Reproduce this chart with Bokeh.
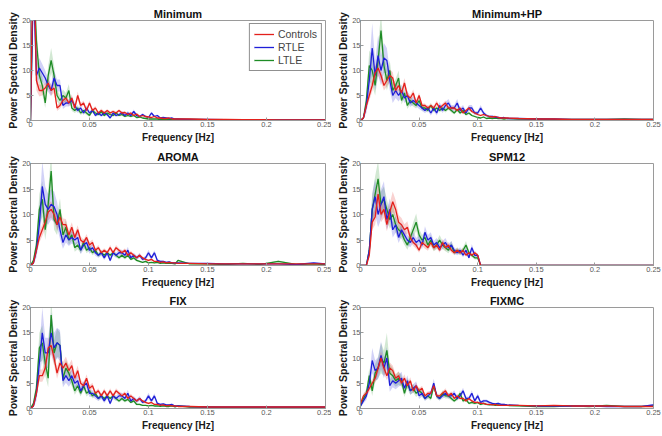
from bokeh.plotting import figure
from bokeh.layouts import column, row
from bokeh.models import FixedTicker, Legend, LegendItem, Range1d
from bokeh.embed import file_html
from bokeh.resources import INLINE

FREQ = [0, 0.0025, 0.005, 0.0075, 0.01, 0.0125, 0.015, 0.0175, 0.02, 0.0225,
        0.025, 0.0275, 0.03, 0.0325, 0.035, 0.0375, 0.04, 0.0425, 0.045, 0.0475,
        0.05, 0.0525, 0.055, 0.0575, 0.06, 0.0625, 0.065, 0.0675, 0.07, 0.0725,
        0.075, 0.0775, 0.08, 0.0825, 0.085, 0.0875, 0.09, 0.0925, 0.095, 0.0975,
        0.1, 0.1025, 0.105, 0.1075, 0.11, 0.1125, 0.115, 0.1175, 0.12, 0.1225,
        0.125, 0.135, 0.15, 0.165, 0.18, 0.195, 0.21, 0.225, 0.24, 0.25]

XTICKS = [0, 0.05, 0.1, 0.15, 0.2, 0.25]
XTICK_LABELS = ["0", "0.05", "0.1", "0.15", "0.2", "0.25"]
YTICKS = [0, 5, 10, 15, 20]
GROUPS = ["Controls", "RTLE", "LTLE"]
TITLES = ["Minimum", "Minimum+HP", "AROMA", "SPM12", "FIX", "FIXMC"]

# ---------------- Minimum ----------------
min_controls = [0, 38, 8, 6, 6, 6.5, 7.5, 6, 6.5, 2.5,
                3, 4, 4.5, 3.5, 4.5, 2.5, 5, 3, 3.5, 2,
                3.5, 2, 2.5, 1.5, 2, 1.5, 2, 1.5, 1.8, 1.5,
                2, 1.5, 1.6, 1.2, 1.5, 1, 1.3, 0.8, 1, 0.8,
                0.7, 0.6, 0.8, 0.5, 0.5, 0.4, 0.4, 0.5, 0.3, 0.3,
                0.3, 0.3, 0.2, 0.2, 0.15, 0.15, 0.1, 0.1, 0.1, 0.1]
min_controls_err = [0, 6, 2, 1.2, 1, 1, 1.2, 1, 1, 0.6,
                    0.6, 0.7, 0.7, 0.6, 0.7, 0.5, 0.8, 0.5, 0.5, 0.4,
                    0.5, 0.4, 0.4, 0.3, 0.4, 0.3, 0.3, 0.3, 0.3, 0.3,
                    0.3, 0.3, 0.3, 0.2, 0.3, 0.2, 0.2, 0.2, 0.2, 0.2,
                    0.1, 0.1, 0.1, 0.1, 0.1, 0.1, 0.1, 0.1, 0.1, 0.1,
                    0.1, 0.1, 0.05, 0.05, 0.05, 0.05, 0.05, 0.05, 0.05, 0.05]
min_rtle = [0, 28, 9, 10.5, 9.5, 8.5, 7, 6, 8.5, 7,
            7, 3, 3.5, 3.5, 4, 3, 2, 2.5, 1.5, 2.5,
            1.5, 2, 1, 1.5, 1, 1.5, 1.2, 0.5, 1.5, 1,
            1.2, 1.5, 1, 1.5, 1, 1.8, 1, 0.8, 1.2, 0.8,
            0.6, 1.5, 0.8, 1, 0.5, 0.6, 0.5, 0.4, 0.5, 0.3,
            0.3, 0.2, 0.2, 0.15, 0.15, 0.1, 0.1, 0.1, 0.1, 0.1]
min_rtle_err = [0, 5, 2, 2, 1.8, 1.5, 1.3, 1.2, 1.5, 1.2,
                1.2, 0.7, 0.7, 0.7, 0.8, 0.6, 0.5, 0.5, 0.4, 0.5,
                0.4, 0.4, 0.3, 0.4, 0.3, 0.4, 0.3, 0.2, 0.4, 0.3,
                0.3, 0.4, 0.3, 0.4, 0.3, 0.4, 0.3, 0.2, 0.3, 0.2,
                0.2, 0.3, 0.2, 0.2, 0.1, 0.1, 0.1, 0.1, 0.1, 0.1,
                0.1, 0.05, 0.05, 0.05, 0.05, 0.05, 0.05, 0.05, 0.05, 0.05]
min_ltle = [0, 30, 16, 9, 7, 3.5, 9, 12, 9, 5,
            4, 5, 4.5, 6, 2.5, 2, 2.5, 1.5, 2, 1.5,
            1, 2, 1.5, 1.2, 1.8, 1, 1.5, 1.2, 1, 1.5,
            1, 1.2, 0.8, 1, 0.8, 1, 0.6, 0.7, 0.5, 0.4,
            0.3, 0.3, 0.3, 0.3, 0.2, 0.2, 0.2, 0.2, 0.2, 0.2,
            0.2, 0.2, 0.15, 0.15, 0.1, 0.1, 0.1, 0.1, 0.1, 0.1]
min_ltle_err = [0, 5, 3, 2, 1.8, 1, 2, 2.5, 2, 1.2,
                1, 1.2, 1, 1.3, 0.6, 0.5, 0.6, 0.4, 0.5, 0.4,
                0.3, 0.4, 0.4, 0.3, 0.4, 0.3, 0.3, 0.3, 0.3, 0.3,
                0.2, 0.3, 0.2, 0.2, 0.2, 0.2, 0.2, 0.2, 0.1, 0.1,
                0.1, 0.1, 0.1, 0.1, 0.1, 0.1, 0.1, 0.1, 0.1, 0.1,
                0.1, 0.05, 0.05, 0.05, 0.05, 0.05, 0.05, 0.05, 0.05, 0.05]

# ---------------- Minimum+HP ----------------
hp_controls = [0, 0.5, 3, 5, 7, 9.5, 10.5, 9, 7, 8,
               9, 8.5, 6, 7, 5.5, 7.5, 5, 4.5, 5.5, 3.5,
               5, 3, 3, 2.5, 3, 2.5, 3.5, 2.5, 3, 3.5,
               2.5, 2.5, 2.5, 2, 2.5, 1.5, 2, 2.5, 1.8, 1.5,
               1.2, 1, 1.2, 1, 0.8, 0.7, 0.8, 0.6, 0.5, 0.5,
               0.5, 0.4, 0.3, 0.3, 0.2, 0.2, 0.2, 0.2, 0.2, 0.2]
hp_controls_err = [0, 0.2, 0.8, 1, 1.2, 1.5, 1.5, 1.3, 1, 1.2,
                   1.2, 1.2, 0.9, 1, 0.8, 1, 0.7, 0.6, 0.7, 0.5,
                   0.6, 0.4, 0.4, 0.4, 0.4, 0.4, 0.5, 0.4, 0.4, 0.5,
                   0.4, 0.4, 0.4, 0.3, 0.4, 0.3, 0.3, 0.4, 0.3, 0.3,
                   0.2, 0.2, 0.2, 0.2, 0.1, 0.1, 0.1, 0.1, 0.1, 0.1,
                   0.1, 0.1, 0.05, 0.05, 0.05, 0.05, 0.05, 0.05, 0.05, 0.05]
hp_rtle = [0, 0.5, 3, 8, 14.5, 9, 13, 10, 12.5, 12,
           8, 5, 6, 5, 6, 4.5, 5, 3.5, 4, 3.5,
           3, 2.5, 2, 2.5, 1.5, 2.5, 1.5, 3, 2, 3,
           3.5, 2.5, 2.5, 3.5, 2, 2.5, 1.5, 2.5, 2.5, 1.5,
           1.5, 2.5, 1.5, 1, 0.8, 0.8, 0.7, 0.6, 0.5, 0.6,
           0.4, 0.4, 0.3, 0.3, 0.2, 0.2, 0.2, 0.2, 0.2, 0.2]
hp_rtle_err = [0, 0.3, 1.5, 3, 5, 3, 4, 3, 3, 2.5,
               2, 1.5, 1.5, 1.2, 1.2, 1, 1, 0.8, 0.8, 0.7,
               0.7, 0.6, 0.5, 0.6, 0.5, 0.6, 0.5, 0.7, 0.5, 0.7,
               0.8, 0.6, 0.6, 0.8, 0.5, 0.6, 0.4, 0.6, 0.6, 0.4,
               0.4, 0.6, 0.4, 0.3, 0.2, 0.2, 0.2, 0.2, 0.1, 0.1,
               0.1, 0.1, 0.05, 0.05, 0.05, 0.05, 0.05, 0.05, 0.05, 0.05]
hp_ltle = [0, 0.5, 4, 11, 10, 7, 12, 18, 11, 8,
           10, 6, 7, 8.5, 4, 5.5, 3, 4, 3.5, 3,
           4, 2.5, 2.5, 2, 3, 2, 2.5, 2, 2.5, 2,
           2.5, 2, 1.5, 2.2, 1.5, 2, 1.2, 1.5, 1, 0.8,
           0.6, 0.5, 0.7, 0.4, 0.5, 0.4, 0.5, 0.4, 0.4, 0.3,
           0.4, 0.3, 0.3, 0.2, 0.2, 0.2, 0.2, 0.3, 0.2, 0.2]
hp_ltle_err = [0, 0.3, 1.5, 3, 3, 2, 3, 3.5, 2.5, 2,
               2, 1.3, 1.3, 1.5, 0.8, 1, 0.7, 0.8, 0.7, 0.6,
               0.7, 0.5, 0.5, 0.4, 0.5, 0.4, 0.4, 0.4, 0.4, 0.4,
               0.4, 0.4, 0.3, 0.4, 0.3, 0.4, 0.3, 0.3, 0.2, 0.2,
               0.2, 0.1, 0.2, 0.1, 0.1, 0.1, 0.1, 0.1, 0.1, 0.1,
               0.1, 0.05, 0.05, 0.05, 0.05, 0.05, 0.05, 0.05, 0.05, 0.05]

# ---------------- AROMA ----------------
aroma_controls = [0, 0.5, 3, 5.5, 7, 8.5, 10.5, 11, 10, 8,
                  9.5, 8, 8, 6, 7.5, 5.5, 7, 5, 4.5, 5.5,
                  4, 4.5, 3, 3.5, 2.5, 3, 2.5, 3.5, 2.5, 3.5,
                  3, 2.5, 3, 2, 2.5, 2, 1.5, 2, 1.5, 1.2,
                  1, 1.2, 0.8, 0.8, 0.6, 0.7, 0.5, 0.6, 0.5, 0.5,
                  0.4, 0.4, 0.3, 0.3, 0.3, 0.3, 0.3, 0.3, 0.3, 0.3]
aroma_controls_err = [0, 0.2, 0.8, 1, 1.2, 1.4, 1.6, 1.6, 1.4, 1.2,
                      1.3, 1.2, 1.1, 0.9, 1, 0.8, 0.9, 0.7, 0.6, 0.7,
                      0.6, 0.6, 0.4, 0.5, 0.4, 0.4, 0.4, 0.5, 0.4, 0.5,
                      0.4, 0.4, 0.4, 0.3, 0.4, 0.3, 0.3, 0.3, 0.2, 0.2,
                      0.2, 0.2, 0.1, 0.1, 0.1, 0.1, 0.1, 0.1, 0.1, 0.1,
                      0.1, 0.1, 0.05, 0.05, 0.05, 0.05, 0.05, 0.05, 0.05, 0.05]
aroma_rtle = [0, 0.5, 3, 8, 15.5, 12, 11, 12, 11.5, 10,
              7, 4.5, 6, 5, 5.5, 5, 5.5, 3, 4, 4.5,
              3, 3.5, 2.5, 2, 2.5, 1.5, 2.5, 1, 2.5, 2,
              2.5, 2.5, 2, 3, 1.5, 2, 1.5, 2, 1.2, 1.5,
              2.5, 1.5, 2.5, 1, 0.8, 0.8, 0.6, 0.7, 0.5, 0.5,
              0.5, 0.4, 0.4, 0.3, 0.3, 0.3, 0.3, 0.2, 0.5, 0.3]
aroma_rtle_err = [0, 0.3, 1.5, 3, 5, 3.5, 3, 3, 3, 2.5,
                  1.8, 1.2, 1.5, 1.2, 1.2, 1.1, 1.1, 0.8, 0.9, 0.9,
                  0.7, 0.7, 0.6, 0.5, 0.6, 0.4, 0.6, 0.3, 0.6, 0.5,
                  0.6, 0.6, 0.5, 0.7, 0.4, 0.5, 0.4, 0.5, 0.3, 0.4,
                  0.6, 0.4, 0.5, 0.3, 0.2, 0.2, 0.2, 0.2, 0.1, 0.1,
                  0.1, 0.1, 0.1, 0.05, 0.05, 0.05, 0.05, 0.05, 0.1, 0.05]
aroma_ltle = [0, 1, 4, 11, 13, 7, 12, 18.5, 9, 8,
              11, 6, 7.5, 5, 6, 3.5, 4, 3, 4.5, 3,
              3.5, 2.5, 3, 2, 2.5, 2, 2.5, 2, 2.5, 2,
              1.5, 2, 1.5, 2, 1.2, 1.5, 1, 0.8, 0.6, 0.8,
              0.5, 0.6, 0.5, 0.6, 0.4, 0.5, 0.4, 0.4, 0.4, 0.3,
              1.0, 0.3, 0.3, 0.2, 0.4, 0.2, 0.8, 0.2, 0.3, 0.2]
aroma_ltle_err = [0, 0.4, 1.5, 3, 3.5, 2, 3, 3.5, 2, 2,
                  2.2, 1.3, 1.4, 1, 1.1, 0.8, 0.8, 0.6, 0.8, 0.6,
                  0.6, 0.5, 0.5, 0.4, 0.5, 0.4, 0.4, 0.4, 0.4, 0.4,
                  0.3, 0.4, 0.3, 0.4, 0.2, 0.3, 0.2, 0.2, 0.1, 0.2,
                  0.1, 0.1, 0.1, 0.1, 0.1, 0.1, 0.1, 0.1, 0.1, 0.1,
                  0.2, 0.05, 0.05, 0.05, 0.1, 0.05, 0.2, 0.05, 0.05, 0.05]

# ---------------- SPM12 ----------------
spm_controls = [0, 0, 0, 2, 8.5, 9.5, 14, 10, 11, 8,
                10.5, 12.5, 11, 8.5, 8, 7, 7.5, 5.5, 4.5, 4,
                3, 4.5, 4, 3.5, 4.5, 3.5, 4, 3, 4.5, 3.5,
                4, 3, 2.5, 3, 2.5, 3, 2, 2.5, 2, 2.5,
                2, 0, 0, 0, 0, 0, 0, 0, 0, 0,
                0, 0, 0, 0, 0, 0, 0, 0, 0, 0]
spm_controls_err = [0, 0, 0, 0.5, 1.5, 1.5, 2.5, 1.5, 1.7, 1.3,
                    1.7, 2, 1.8, 1.4, 1.3, 1.1, 1.2, 0.9, 0.7, 0.7,
                    0.5, 0.7, 0.7, 0.6, 0.7, 0.6, 0.6, 0.5, 0.7, 0.6,
                    0.6, 0.5, 0.4, 0.5, 0.4, 0.5, 0.3, 0.4, 0.3, 0.4,
                    0.3, 0, 0, 0, 0, 0, 0, 0, 0, 0,
                    0, 0, 0, 0, 0, 0, 0, 0, 0, 0]
spm_rtle = [0, 0, 0, 3, 11, 13.5, 10, 12, 13.5, 9,
            11, 7, 8, 5.5, 7, 6, 5, 4.5, 5.5, 4.5,
            5, 4, 6.5, 5, 5.5, 4, 4.5, 3.5, 4, 4.5,
            3.5, 4, 3, 2.5, 3, 2, 3, 1.5, 3.5, 2,
            2, 0, 0, 0, 0, 0, 0, 0, 0, 0,
            0, 0, 0, 0, 0, 0, 0, 0, 0, 0]
spm_rtle_err = [0, 0, 0, 1, 3, 3.5, 2.5, 3, 3, 2,
                2.2, 1.5, 1.6, 1.1, 1.3, 1.2, 1, 0.9, 1.1, 0.9,
                1, 0.8, 1.2, 1, 1, 0.8, 0.9, 0.7, 0.8, 0.9,
                0.7, 0.8, 0.6, 0.5, 0.6, 0.4, 0.6, 0.3, 0.7, 0.4,
                0.4, 0, 0, 0, 0, 0, 0, 0, 0, 0,
                0, 0, 0, 0, 0, 0, 0, 0, 0, 0]
spm_ltle = [0, 0, 0, 3, 11, 14, 17, 12, 13, 11,
            9, 10, 8, 7, 6.5, 5, 4, 5.5, 7, 8.5,
            6, 5, 5.5, 4, 5, 3.5, 4, 5, 4, 3.5,
            3, 4, 2.5, 3, 2.5, 3, 4, 2.5, 2, 1.5,
            1.5, 0, 0, 0, 0, 0, 0, 0, 0, 0,
            0, 0, 0, 0, 0, 0, 0, 0, 0, 0]
spm_ltle_err = [0, 0, 0, 1, 3, 3.5, 3.5, 2.5, 2.5, 2,
                1.8, 2, 1.6, 1.4, 1.3, 1, 0.9, 1.1, 1.5, 1.7,
                1.2, 1, 1.1, 0.8, 1, 0.7, 0.8, 1, 0.8, 0.7,
                0.6, 0.8, 0.5, 0.6, 0.5, 0.6, 0.8, 0.5, 0.4, 0.3,
                0.3, 0, 0, 0, 0, 0, 0, 0, 0, 0,
                0, 0, 0, 0, 0, 0, 0, 0, 0, 0]

# ---------------- FIX ----------------
fix_controls = [0, 0.5, 3, 6.5, 6.5, 8, 12, 12.5, 10, 7,
                9, 8, 9, 7.5, 8.5, 6, 7.5, 5, 4.5, 6,
                4, 4.5, 3, 3.5, 2.5, 3.5, 2.5, 3.5, 2.5, 3.5,
                3, 2.5, 3, 2, 2.5, 2, 1.5, 2, 1.5, 1.2,
                1, 1.2, 0.8, 0.8, 0.6, 0.7, 0.5, 0.6, 0.5, 0.5,
                0.4, 0.4, 0.3, 0.3, 0.3, 0.3, 0.3, 0.3, 0.3, 0.3]
fix_controls_err = [0, 0.2, 0.8, 1.2, 1.2, 1.4, 1.8, 1.8, 1.5, 1.1,
                    1.3, 1.2, 1.3, 1.1, 1.2, 0.9, 1, 0.7, 0.6, 0.8,
                    0.6, 0.6, 0.4, 0.5, 0.4, 0.5, 0.4, 0.5, 0.4, 0.5,
                    0.4, 0.4, 0.4, 0.3, 0.4, 0.3, 0.3, 0.3, 0.2, 0.2,
                    0.2, 0.2, 0.1, 0.1, 0.1, 0.1, 0.1, 0.1, 0.1, 0.1,
                    0.1, 0.1, 0.05, 0.05, 0.05, 0.05, 0.05, 0.05, 0.05, 0.05]
fix_rtle = [0, 0.5, 3, 9, 15, 11, 11, 15, 12, 13,
            12.5, 5.5, 6.5, 5.5, 6.5, 5, 5.5, 3.5, 4.5, 5,
            3, 3, 2.5, 2, 2.5, 1.5, 2.5, 1, 2.5, 2,
            2.5, 2.5, 2, 3, 1.5, 2, 1.5, 2, 1.2, 1.5,
            2.5, 1.5, 2.5, 1, 0.8, 0.9, 0.7, 0.7, 0.8, 0.5,
            0.5, 0.4, 0.3, 0.3, 0.3, 0.3, 0.3, 0.3, 0.3, 0.3]
fix_rtle_err = [0, 0.3, 1.5, 3, 5, 3, 3, 4, 3, 3,
                3, 1.3, 1.4, 1.2, 1.3, 1.1, 1.1, 0.8, 0.9, 1,
                0.7, 0.6, 0.6, 0.5, 0.6, 0.4, 0.6, 0.3, 0.6, 0.5,
                0.6, 0.6, 0.5, 0.7, 0.4, 0.5, 0.4, 0.5, 0.3, 0.4,
                0.6, 0.4, 0.5, 0.3, 0.2, 0.2, 0.2, 0.2, 0.2, 0.1,
                0.1, 0.1, 0.05, 0.05, 0.05, 0.05, 0.05, 0.05, 0.05, 0.05]
fix_ltle = [0, 1, 4, 12, 13, 9, 6, 18.5, 11, 13,
            12.5, 6, 8, 7, 5.5, 3.5, 4.5, 3, 4.5, 3,
            3.5, 2.5, 3, 2, 2.5, 2, 2.5, 2, 2.5, 2,
            1.5, 2, 1.5, 1.8, 1.2, 1.5, 0.8, 0.8, 0.6, 0.6,
            0.5, 0.6, 0.5, 0.5, 0.4, 0.5, 0.4, 0.4, 0.5, 0.3,
            0.5, 0.3, 0.3, 0.2, 0.2, 0.2, 0.2, 0.2, 0.2, 0.2]
fix_ltle_err = [0, 0.4, 1.5, 3, 3.5, 2.5, 1.8, 3.5, 2.5, 2.8,
                2.5, 1.3, 1.6, 1.4, 1.1, 0.8, 0.9, 0.6, 0.8, 0.6,
                0.6, 0.5, 0.5, 0.4, 0.5, 0.4, 0.4, 0.4, 0.4, 0.4,
                0.3, 0.4, 0.3, 0.3, 0.2, 0.3, 0.2, 0.2, 0.1, 0.1,
                0.1, 0.1, 0.1, 0.1, 0.1, 0.1, 0.1, 0.1, 0.1, 0.1,
                0.1, 0.05, 0.05, 0.05, 0.05, 0.05, 0.05, 0.05, 0.05, 0.05]

# ---------------- FIXMC ----------------
fixmc_controls = [1, 2.5, 3, 4, 5, 6, 8, 10, 8, 6.5,
                  8, 7.5, 6, 6.5, 5, 6, 4.5, 5.5, 3.5, 4.5,
                  3.5, 4, 2.5, 3, 3, 4.5, 2.5, 2.5, 3, 3.5,
                  2.5, 3, 2, 2.5, 2, 2, 1.5, 2, 1.5, 1.2,
                  1.2, 1, 1, 0.8, 0.8, 0.7, 0.8, 0.6, 0.6, 0.6,
                  0.6, 0.6, 0.5, 0.6, 0.5, 0.5, 0.5, 0.4, 0.4, 0.4]
fixmc_controls_err = [0.3, 0.5, 0.6, 0.7, 0.8, 0.9, 1.1, 1.3, 1.1, 0.9,
                      1.1, 1, 0.8, 0.9, 0.7, 0.8, 0.6, 0.7, 0.5, 0.6,
                      0.5, 0.5, 0.4, 0.4, 0.4, 0.6, 0.4, 0.4, 0.4, 0.5,
                      0.4, 0.4, 0.3, 0.4, 0.3, 0.3, 0.2, 0.3, 0.2, 0.2,
                      0.2, 0.2, 0.2, 0.1, 0.1, 0.1, 0.1, 0.1, 0.1, 0.1,
                      0.1, 0.1, 0.1, 0.1, 0.1, 0.1, 0.1, 0.1, 0.1, 0.1]
fixmc_rtle = [0.5, 1.5, 2.5, 5, 9.5, 7.5, 8, 10.5, 8, 10,
              4.5, 5.5, 5, 5.5, 6, 4, 5.5, 3.5, 4, 4.5,
              2.5, 3, 2, 2.5, 3, 5, 2.5, 2, 2.5, 3,
              2.5, 2.5, 3, 2, 2.5, 3.5, 2, 2, 3, 1.5,
              2.5, 1.2, 1.5, 1.5, 1.2, 1, 0.9, 1, 0.8, 0.8,
              0.7, 0.6, 0.5, 0.5, 0.5, 0.5, 0.4, 0.4, 0.4, 0.7]
fixmc_rtle_err = [0.3, 0.5, 0.8, 1.2, 2.5, 2, 2.2, 2.8, 2, 2.2,
                  1.2, 1.3, 1.2, 1.2, 1.3, 0.9, 1.1, 0.8, 0.8, 0.9,
                  0.6, 0.6, 0.5, 0.5, 0.6, 0.9, 0.5, 0.4, 0.5, 0.6,
                  0.5, 0.5, 0.6, 0.4, 0.5, 0.6, 0.4, 0.4, 0.6, 0.3,
                  0.5, 0.3, 0.3, 0.3, 0.3, 0.2, 0.2, 0.2, 0.2, 0.2,
                  0.1, 0.1, 0.1, 0.1, 0.1, 0.1, 0.1, 0.1, 0.1, 0.2]
fixmc_ltle = [0.5, 2, 3, 6.5, 3.5, 7, 8, 10, 9, 11.5,
              7, 6.5, 5.5, 6, 5.5, 3, 5, 3.5, 4, 3,
              3.5, 3, 2, 2.5, 2, 4.5, 2.5, 2, 3, 2.5,
              2.5, 2, 1.5, 2, 3, 1.5, 1.8, 1, 1.2, 1,
              1.2, 0.8, 1, 0.8, 0.7, 0.8, 0.6, 0.7, 0.6, 0.7,
              0.6, 0.5, 0.4, 0.4, 0.5, 0.4, 0.6, 0.4, 0.4, 0.5]
fixmc_ltle_err = [0.3, 0.6, 0.9, 1.5, 1, 1.8, 2, 3, 2.5, 3.5,
                  1.8, 1.5, 1.2, 1.3, 1.2, 0.7, 1.1, 0.8, 0.9, 0.7,
                  0.7, 0.6, 0.4, 0.5, 0.4, 0.8, 0.5, 0.4, 0.6, 0.5,
                  0.5, 0.4, 0.3, 0.4, 0.6, 0.3, 0.4, 0.2, 0.3, 0.2,
                  0.3, 0.2, 0.2, 0.2, 0.1, 0.2, 0.1, 0.1, 0.1, 0.1,
                  0.1, 0.1, 0.1, 0.1, 0.1, 0.1, 0.1, 0.1, 0.1, 0.1]

PANELS = [
    (min_controls, min_controls_err, min_rtle, min_rtle_err, min_ltle, min_ltle_err),
    (hp_controls, hp_controls_err, hp_rtle, hp_rtle_err, hp_ltle, hp_ltle_err),
    (aroma_controls, aroma_controls_err, aroma_rtle, aroma_rtle_err, aroma_ltle, aroma_ltle_err),
    (spm_controls, spm_controls_err, spm_rtle, spm_rtle_err, spm_ltle, spm_ltle_err),
    (fix_controls, fix_controls_err, fix_rtle, fix_rtle_err, fix_ltle, fix_ltle_err),
    (fixmc_controls, fixmc_controls_err, fixmc_rtle, fixmc_rtle_err, fixmc_ltle, fixmc_ltle_err),
]

COLORS = {"Controls": "#e3201b", "RTLE": "#1f1fd8", "LTLE": "#1e8c25"}
FONT = "Liberation Sans"
AXIS_GRAY = "#9a9a9a"

# per-row figure heights and borders (top, bottom); per-column borders (left, right)
ROW_H = [145, 145, 146]
ROW_B = [(20, 24), (18, 24), (17, 28)]
COL_B = [(30, 6), (29, 9)]


def style_axis(ax):
    ax.major_tick_in = 3
    ax.major_tick_out = 0
    ax.minor_tick_line_color = None
    ax.axis_line_color = AXIS_GRAY
    ax.major_tick_line_color = AXIS_GRAY
    ax.major_label_text_color = "#5a5a5a"
    ax.major_label_text_font = FONT
    ax.major_label_text_font_size = "7.5px"
    ax.major_label_standoff = 1
    ax.axis_label_text_font = FONT
    ax.axis_label_text_font_style = "bold"
    ax.axis_label_text_font_size = "10px"
    ax.axis_label_text_color = "#1a1a1a"
    ax.axis_label_standoff = 2


def make_panel(idx):
    rw, cl = idx // 2, idx % 2
    title = TITLES[idx]
    c, ce, r, re_, l, le = PANELS[idx]
    p = figure(width=331, height=ROW_H[rw], output_backend="svg", toolbar_location=None,
               x_range=Range1d(0, 0.25), y_range=Range1d(0, 20),
               min_border_left=COL_B[cl][0], min_border_right=COL_B[cl][1],
               min_border_top=ROW_B[rw][0], min_border_bottom=ROW_B[rw][1])
    p.title.text = title
    p.title.align = "center"
    p.title.text_font = FONT
    p.title.text_font_size = "11px"
    p.title.text_font_style = "bold"
    p.title.text_color = "#111111"
    p.title.standoff = 1
    p.xgrid.visible = False
    p.ygrid.visible = False
    p.outline_line_color = AXIS_GRAY
    p.background_fill_color = "white"
    p.border_fill_color = "white"

    p.xaxis.ticker = FixedTicker(ticks=XTICKS)
    p.xaxis.major_label_overrides = dict(zip(XTICKS, XTICK_LABELS))
    p.yaxis.ticker = FixedTicker(ticks=YTICKS)
    p.xaxis.axis_label = "Frequency [Hz]"
    p.yaxis.axis_label = "Power Spectral Density"
    style_axis(p.xaxis[0])
    style_axis(p.yaxis[0])
    p.yaxis.major_label_standoff = 0
    p.yaxis.axis_label_standoff = 0
    p.yaxis.axis_label_text_font_size = "10.5px"

    series = [("LTLE", l, le), ("RTLE", r, re_), ("Controls", c, ce)]
    for name, y, e in series:
        lo = [a - b for a, b in zip(y, e)]
        hi = [a + b for a, b in zip(y, e)]
        p.varea(x=FREQ, y1=lo, y2=hi, fill_color=COLORS[name], fill_alpha=0.2)
    rends = {}
    for name, y, e in series:
        rends[name] = p.line(FREQ, y, line_color=COLORS[name], line_width=1.3)

    if idx == 0:
        items = [LegendItem(label=g, renderers=[rends[g]]) for g in GROUPS]
        leg = Legend(items=items, location="top_right")
        leg.label_text_font = FONT
        leg.label_text_font_size = "10.5px"
        leg.glyph_width = 20
        leg.glyph_height = 12
        leg.label_standoff = 4
        leg.label_height = 12
        leg.spacing = 1
        leg.padding = 4
        leg.margin = 3
        leg.border_line_color = "#222222"
        leg.border_line_width = 0.8
        leg.background_fill_alpha = 1
        p.add_layout(leg)
    return p


figs = [make_panel(i) for i in range(6)]
layout = column(row(figs[0], figs[1]), row(figs[2], figs[3]), row(figs[4], figs[5]))

open("out.html", "w").write(file_html(layout, INLINE))
